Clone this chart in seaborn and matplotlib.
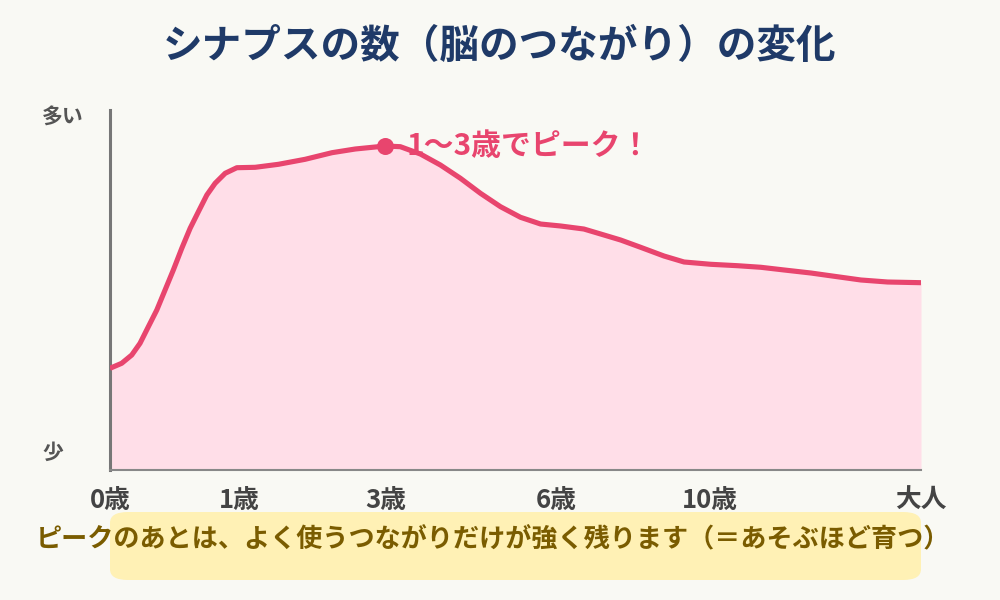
import matplotlib
matplotlib.use("Agg")
import matplotlib.pyplot as plt
from matplotlib.patches import FancyBboxPatch
import pandas as pd
import seaborn as sns

# data (x: position along the age axis 0-100, y: relative number of synapses 0-100)
age_pos = [0, 1.44, 2.68, 3.70, 4.73, 5.77, 6.79, 7.81, 8.85, 9.88, 10.90, 11.94,
           12.96, 14.20, 15.64, 17.90, 20.78, 24.07, 27.37, 30.25, 33.95, 35.80,
           38.27, 40.74, 43.21, 45.68, 48.15, 50.62, 53.09, 55.56, 58.43, 60.49,
           62.96, 65.43, 68.31, 70.78, 74.07, 77.37, 80.25, 83.12, 86.42, 89.30,
           92.59, 95.89, 100]
synapses = [28.25, 29.64, 31.94, 35.19, 39.81, 44.44, 50.0, 55.56, 61.58, 67.14,
            71.75, 76.39, 79.64, 82.42, 83.97, 84.08, 84.92, 86.31, 88.14, 89.17,
            90.0, 89.81, 87.78, 84.72, 81.03, 76.86, 73.14, 70.19, 68.33, 67.78,
            66.94, 65.56, 63.89, 61.86, 59.44, 57.78, 57.14, 56.75, 56.31, 55.56,
            54.72, 53.81, 52.78, 52.22, 52.03]
tick_pos = [0, 15.9, 34.0, 55.0, 74.0, 100]
tick_labels = ["0歳", "1歳", "3歳", "6歳", "10歳", "大人"]
peak_pos = 33.95
peak_val = 90.0

title = "シナプスの数（脳のつながり）の変化"
peak_text = "1〜3歳でピーク！"
note_text = "ピークのあとは、よく使うつながりだけが強く残ります（＝あそぶほど育つ）"

bg = "#f9f9f4"
line_color = "#e8456e"
fill_color = "#ffdee8"

sns.set_style("white")
plt.rcParams["font.family"] = ["Noto Sans CJK JP", "DejaVu Sans"]
plt.rcParams["font.weight"] = "bold"

df = pd.DataFrame({"age": age_pos, "syn": synapses})

fig = plt.figure(figsize=(10, 6), dpi=100, facecolor=bg)
ax = fig.add_axes([0.11, 1 - 470 / 600, 0.811, 360 / 600])
ax.set_facecolor(bg)

ax.fill_between(df["age"], 0, df["syn"], color=fill_color, lw=0, zorder=1)
sns.lineplot(data=df, x="age", y="syn", ax=ax, color=line_color, lw=3.7,
             sort=False, zorder=3, solid_joinstyle="round", solid_capstyle="butt")
ax.scatter([peak_pos], [peak_val], s=150, color=line_color, zorder=4, lw=0)
ax.annotate(peak_text, (peak_pos, peak_val), xytext=(15, 0),
            textcoords="offset points", ha="left", va="center",
            fontsize=21.5, fontweight="bold", color=line_color)

ax.set_xlim(0, 100)
ax.set_ylim(0, 100)
ax.set_xticks(tick_pos)
ax.set_xticklabels(tick_labels, fontsize=18.5, fontweight="bold", color="#444444")
ax.set_yticks([])
ax.tick_params(axis="x", length=6, width=1.5, color="#888888", pad=6)
ax.set_xlabel("")
ax.set_ylabel("")
for s in ["top", "right"]:
    ax.spines[s].set_visible(False)
ax.spines["left"].set_color("#777777")
ax.spines["left"].set_linewidth(2.2)
ax.spines["bottom"].set_color("#888888")
ax.spines["bottom"].set_linewidth(1.5)

fig.text(0.042, 1 - 117 / 600, "多い", fontsize=15, fontweight="bold",
         color="#555555", ha="left", va="center")
fig.text(0.042, 1 - 452 / 600, "少", fontsize=15, fontweight="bold",
         color="#555555", ha="left", va="center")

fig.text(0.5, 1 - 46 / 600, title, fontsize=28.5, fontweight="bold",
         color="#1f3a68", ha="center", va="center")

box = FancyBboxPatch((0.11 + 0.018, 1 - 580 / 600 + 0.018), 0.811 - 0.036,
                     68 / 600 - 0.036, boxstyle="round,pad=0.018,rounding_size=0.018",
                     transform=fig.transFigure, facecolor="#fff1b5",
                     edgecolor="none", zorder=0)
fig.patches.append(box)
fig.text(0.4925, 1 - 540 / 600, note_text, fontsize=18.8, fontweight="bold",
         color="#7a5c00", ha="center", va="center")

fig.savefig("out.png", dpi=100, facecolor=bg)
